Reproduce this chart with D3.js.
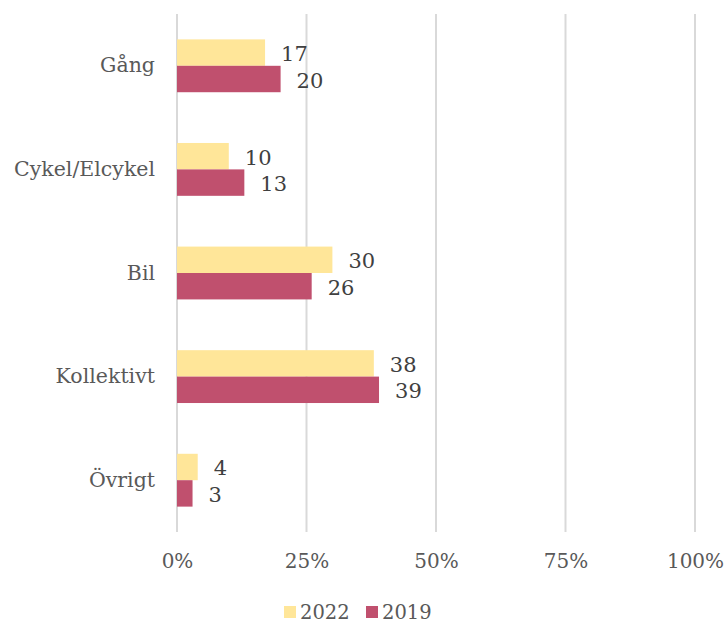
<!DOCTYPE html>
<html><head><meta charset="utf-8">
<script src="https://cdn.jsdelivr.net/npm/d3@7/dist/d3.min.js"></script>
<style>body{margin:0;background:#fff}svg{display:block}</style>
</head><body>
<svg id="c" width="727" height="623"></svg>
<script>
const categories = ["Gång", "Cykel/Elcykel", "Bil", "Kollektivt", "Övrigt"];
const series = ["2022", "2019"];
const values2022 = [17, 10, 30, 38, 4];
const values2019 = [20, 13, 26, 39, 3];
const xTicks = [0, 25, 50, 75, 100];
const colors = ["#FFE699", "#C0506E"];

(function () {
const svg = d3.select("#c");
const font = "'DejaVu Serif', Georgia, serif";
const textColor = "#595959";
const pLeft = 177, pRight = 695, pTop = 14, pBottom = 532;

const x = d3.scaleLinear().domain([0, 100]).range([pLeft, pRight]);
const y = d3.scaleBand().domain(categories).range([pTop, pBottom]).paddingInner(0.49).paddingOuter(0.245);
const y1 = d3.scaleBand().domain(series).range([0, y.bandwidth()]);

// gridlines
svg.append("g").selectAll("line").data(xTicks).join("line")
  .attr("x1", d => x(d)).attr("x2", d => x(d))
  .attr("y1", pTop).attr("y2", pBottom)
  .attr("stroke", "#D9D9D9").attr("stroke-width", 2);

const data = categories.map((c, i) => ({c, v: [values2022[i], values2019[i]]}));

const g = svg.append("g").selectAll("g").data(data).join("g")
  .attr("transform", d => `translate(0,${y(d.c)})`);

g.selectAll("rect").data(d => d.v.map((v, j) => ({v, s: series[j], j}))).join("rect")
  .attr("x", x(0)).attr("y", d => y1(d.s))
  .attr("width", d => x(d.v) - x(0)).attr("height", y1.bandwidth())
  .attr("fill", d => colors[d.j]);

g.selectAll("text").data(d => d.v.map((v, j) => ({v, s: series[j], j}))).join("text")
  .attr("x", d => x(d.v) + 16).attr("y", d => y1(d.s) + y1.bandwidth() / 2 + 3)
  .attr("dominant-baseline", "middle")
  .attr("font-family", font).attr("font-size", 21).attr("fill", "#404040")
  .text(d => d.v);

// category labels
const yAxis = d3.axisLeft(y).tickSize(0).tickPadding(22);
const ya = svg.append("g").attr("transform", `translate(${pLeft},0)`).call(yAxis);
ya.select(".domain").remove();
ya.selectAll("text").attr("font-family", font).attr("font-size", 20.5).attr("fill", textColor);

// x axis labels
const xAxis = d3.axisBottom(x).tickValues(xTicks).tickFormat(d => d + "%").tickSize(0).tickPadding(22);
const xa = svg.append("g").attr("transform", `translate(0,${pBottom})`).call(xAxis);
xa.select(".domain").remove();
xa.selectAll("text").attr("font-family", font).attr("font-size", 20).attr("fill", textColor);

// legend
const legX = [284, 366];
const leg = svg.append("g").selectAll("g").data(series).join("g")
  .attr("transform", (d, i) => `translate(${legX[i]},606)`);
leg.append("rect").attr("width", 12).attr("height", 12).attr("fill", (d, i) => colors[i]);
leg.append("text").attr("x", 16).attr("y", 7).attr("dominant-baseline", "middle")
  .attr("font-family", font).attr("font-size", 19.5).attr("fill", textColor).text(d => d);
})();
</script>
</body></html>
